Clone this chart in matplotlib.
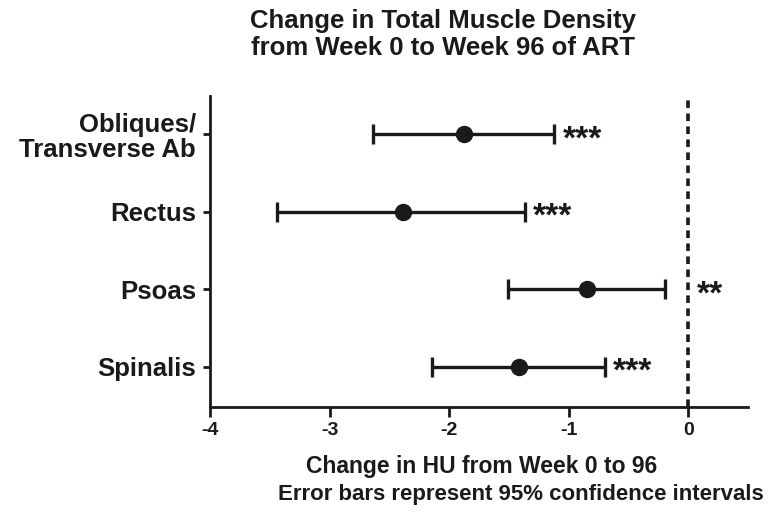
import numpy as np
import matplotlib.pyplot as plt

plt.rcParams['font.family'] = ['Liberation Sans', 'DejaVu Sans']
plt.rcParams['font.weight'] = 'bold'

muscles = ['Obliques/\nTransverse Ab', 'Rectus', 'Psoas', 'Spinalis']
means = [-1.88, -2.39, -0.85, -1.42]
lower = [-2.64, -3.44, -1.51, -2.14]
upper = [-1.12, -1.37, -0.20, -0.70]
sig = ['***', '***', '**', '***']

if __name__ == '__main__':
	fig = plt.figure(figsize=(7.69, 5.12), dpi=100)
	ax = fig.add_axes([0.273, 0.205, 0.70, 0.608])
	ink = '#1a1a1a'

	y = np.arange(len(muscles))
	m = np.array(means)
	err = [m - np.array(lower), np.array(upper) - m]
	ax.errorbar(m, y, xerr=err, fmt='o', color=ink, ms=11.5,
				elinewidth=2.4, capsize=7.5, capthick=2.4)
	ax.axvline(0, color=ink, linestyle=(0, (2.1, 1.5)), lw=2.6)

	for i in range(len(muscles)):
		# stars sit after the CI, or after the zero line if the CI is close to it
		xpos = 0 if upper[i] > -0.3 else upper[i]
		ax.annotate(sig[i], (xpos, y[i]), xytext=(6, -4), textcoords='offset points',
					fontsize=24, fontweight='bold', va='center', ha='left', color=ink)

	ax.set_xlim(-4, 0.5)
	ax.set_ylim(3.52, -0.5)
	ax.set_xticks([-4, -3, -2, -1, 0])
	ax.set_xticklabels(['-4', '-3', '-2', '-1', '0'], fontsize=14, fontweight='bold')
	ax.set_yticks(y)
	ax.set_yticklabels(muscles, fontsize=18.5, fontweight='bold', ha='right',
					   multialignment='right', linespacing=1.08)
	ax.tick_params(axis='x', length=7, width=2, direction='out', pad=4, colors=ink)
	ax.tick_params(axis='y', length=5, width=2, direction='out', pad=5, colors=ink)
	for s in ['top', 'right']:
		ax.spines[s].set_visible(False)
	for s in ['left', 'bottom']:
		ax.spines[s].set_linewidth(2)
		ax.spines[s].set_color(ink)

	fig.text(482 / 769, 1 - 473 / 512, 'Change in HU from Week 0 to 96',
			 fontsize=16.5, fontweight='bold', ha='center', va='baseline', color=ink)
	fig.text(521 / 769, 1 - 500 / 512, 'Error bars represent 95% confidence intervals',
			 fontsize=16, fontweight='bold', ha='center', va='baseline', color=ink)
	fig.suptitle('Change in Total Muscle Density\nfrom Week 0 to Week 96 of ART',
				 x=0.576, y=0.982, fontsize=18.5, fontweight='bold', linespacing=1.15, color=ink)

	plt.savefig('out.png', dpi=100)
